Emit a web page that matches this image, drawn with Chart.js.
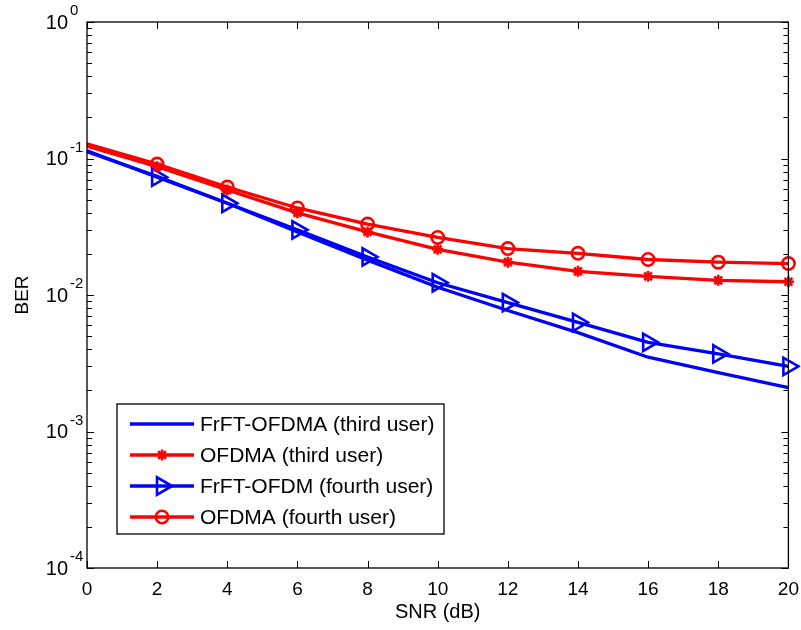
<!DOCTYPE html>
<html>
<head>
<meta charset="utf-8">
<script src="https://cdn.jsdelivr.net/npm/chart.js@4/dist/chart.umd.min.js"></script>
<style>
  html, body { margin: 0; padding: 0; background: #fff; }
</style>
</head>
<body>
<canvas id="graficoBer" width="801" height="630"></canvas>
<script>
// dados (BER x SNR)
const snr = [0, 2, 4, 6, 8, 10, 12, 14, 16, 18, 20];
const berFrftThird  = [0.112, 0.074, 0.047, 0.029, 0.018, 0.0114, 0.0077, 0.0053, 0.0035, 0.0027, 0.0021];
const berOfdmaThird = [0.123, 0.087, 0.0588, 0.040, 0.029, 0.0216, 0.0174, 0.0149, 0.0137, 0.0128, 0.0125];
const berFrftFourth = [0.114, 0.073, 0.047, 0.030, 0.019, 0.0123, 0.0088, 0.0063, 0.0045, 0.0037, 0.0030];
const berOfdmaFourth = [0.128, 0.091, 0.0618, 0.0434, 0.0331, 0.0264, 0.0219, 0.0202, 0.0182, 0.0174, 0.0170];
const seriesNames = ['FrFT-OFDMA (third user)', 'OFDMA (third user)', 'FrFT-OFDM (fourth user)', 'OFDMA (fourth user)'];
const xTicks = [0, 2, 4, 6, 8, 10, 12, 14, 16, 18, 20];
const yDecades = [0, -1, -2, -3, -4];

const FONT = 'Arial, "Liberation Sans", sans-serif';
const BLUE = '#0000ff';
const RED = '#ff0000';

// sem marcador no primeiro ponto (igual ao original)
const hideFirst = r => c => (c.dataIndex === 0 ? 0 : r);

const series = [
  { label: seriesNames[0], data: berFrftThird, color: BLUE, style: 'circle', radius: 0, rot: 0 },
  { label: seriesNames[1], data: berOfdmaThird, color: RED, style: 'star', radius: 5.5, rot: 0 },
  { label: seriesNames[2], data: berFrftFourth, color: BLUE, style: 'triangle', radius: 10, rot: 90 },
  { label: seriesNames[3], data: berOfdmaFourth, color: RED, style: 'circle', radius: 6.2, rot: 0 }
];

const quadro = {
  id: 'quadro',
  afterDatasetsDraw(chart) {
    const { ctx, chartArea: a, scales: { x, y } } = chart;
    ctx.save();
    ctx.strokeStyle = '#000';
    ctx.lineWidth = 1.3;
    ctx.strokeRect(a.left, a.top, a.right - a.left, a.bottom - a.top);

    const seg = (x1, y1, x2, y2) => { ctx.beginPath(); ctx.moveTo(x1, y1); ctx.lineTo(x2, y2); ctx.stroke(); };
    ctx.lineWidth = 1;
    xTicks.forEach(v => {
      const px = Math.round(x.getPixelForValue(v)) + 0.5;
      seg(px, a.bottom, px, a.bottom - 7);
      seg(px, a.top, px, a.top + 7);
    });
    yDecades.forEach(k => {
      for (let m = 1; m <= 9; m++) {
        const v = m * Math.pow(10, k);
        if (v > 1.0001) continue;
        const py = Math.round(y.getPixelForValue(v)) + 0.5;
        const len = m === 1 ? 7 : 5;
        seg(a.left, py, a.left + len, py);
        seg(a.right, py, a.right - len, py);
      }
    });

    // rótulos do eixo y: 10^k
    ctx.fillStyle = '#000';
    yDecades.forEach(k => {
      const py = y.getPixelForValue(Math.pow(10, k));
      ctx.font = '20px ' + FONT;
      ctx.textAlign = 'right';
      ctx.textBaseline = 'middle';
      ctx.fillText('10', a.left - 19, py + 1);
      ctx.font = '15px ' + FONT;
      ctx.textAlign = 'left';
      ctx.fillText(String(k), a.left - 17, py - 11);
    });

    // legenda
    const box = { l: 117, t: 404, r: 444, b: 534 };
    ctx.fillStyle = '#fff';
    ctx.fillRect(box.l, box.t, box.r - box.l, box.b - box.t);
    ctx.strokeStyle = '#000';
    ctx.lineWidth = 1.3;
    ctx.strokeRect(box.l, box.t, box.r - box.l, box.b - box.t);
    series.forEach((s, i) => {
      const ly = 424 + i * 31;
      ctx.strokeStyle = s.color;
      ctx.lineWidth = 3.3;
      seg(130, ly, 194, ly);
      if (s.radius > 0) {
        ctx.fillStyle = 'rgba(0,0,0,0)';
        ctx.lineWidth = 2.6;
        Chart.helpers.drawPoint(ctx, { pointStyle: s.style, radius: s.radius, rotation: s.rot, borderWidth: 2.6 }, 162, ly);
      }
      ctx.fillStyle = '#000';
      ctx.font = '21px ' + FONT;
      ctx.textAlign = 'left';
      ctx.textBaseline = 'middle';
      ctx.fillText(s.label, 200, ly + 1);
    });
    ctx.restore();
  }
};

const ctx = document.getElementById('graficoBer').getContext('2d');
const grafico = new Chart(ctx, {
  type: 'line',
  data: {
    datasets: series.map(s => ({
      label: s.label,
      data: s.data.map((v, i) => ({ x: snr[i], y: v })),
      borderColor: s.color,
      backgroundColor: 'rgba(0,0,0,0)',
      borderWidth: 3.3,
      pointStyle: s.style,
      pointRadius: hideFirst(s.radius),
      pointRotation: s.rot,
      pointBorderColor: s.color,
      pointBackgroundColor: 'rgba(0,0,0,0)',
      pointBorderWidth: 2.6,
      tension: 0,
      clip: 12
    }))
  },
  options: {
    responsive: false,
    animation: false,
    layout: { padding: { top: 22, right: 12, left: 0, bottom: 0 } },
    scales: {
      x: {
        type: 'linear',
        min: 0,
        max: 20,
        afterBuildTicks: scale => { scale.ticks = xTicks.map(v => ({ value: v })); },
        afterFit: scale => { scale.height = 62; scale.paddingLeft = 0; scale.paddingRight = 0; },
        grid: { display: false, drawTicks: false },
        border: { display: false },
        ticks: { color: '#000', font: { family: FONT, size: 19 }, padding: 10, maxRotation: 0 },
        title: { display: true, text: 'SNR (dB)', color: '#000', font: { family: FONT, size: 20 }, padding: { top: 0, bottom: 6 } }
      },
      y: {
        type: 'logarithmic',
        min: 1e-4,
        max: 1,
        afterFit: scale => { scale.width = 87; },
        grid: { display: false, drawTicks: false },
        border: { display: false },
        ticks: { display: false },
        title: { display: true, text: 'BER', color: '#000', font: { family: FONT, size: 19 }, padding: { top: 11, bottom: 0 } }
      }
    },
    plugins: {
      legend: { display: false },
      tooltip: { enabled: false }
    }
  },
  plugins: [quadro]
});
</script>
</body>
</html>
